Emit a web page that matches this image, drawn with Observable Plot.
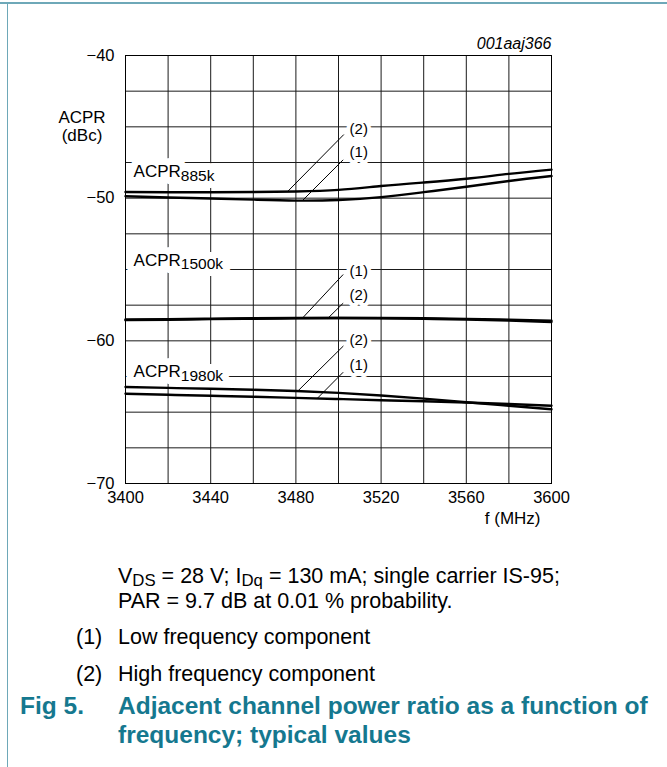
<!DOCTYPE html>
<html><head><meta charset="utf-8">
<script src="https://cdn.jsdelivr.net/npm/d3@7"></script>
<script src="https://cdn.jsdelivr.net/npm/@observablehq/plot@0.6"></script>
<style>
html,body{margin:0;padding:0;background:#fff;}
#page{position:relative;width:667px;height:767px;overflow:hidden;font-family:"Liberation Sans",Arial,Helvetica,sans-serif;color:#000;background:#fff;}
#topline{position:absolute;left:0;top:2px;width:667px;height:1.5px;background:#6ea8b8;}
#leftline{position:absolute;left:6.5px;top:2px;width:1.5px;height:765px;background:#6ea8b8;}
#chart{position:absolute;left:0;top:0;}
.note{position:absolute;white-space:nowrap;line-height:1;font-size:21.5px;}
.sub{font-size:0.78em;position:relative;top:0.17em;}
.title{position:absolute;white-space:nowrap;line-height:1;font-size:24.5px;font-weight:bold;color:#15788f;}
</style>
</head><body>
<div id="page">
  <div id="chart"></div>
  <div id="topline"></div>
  <div id="leftline"></div>
  <div class="note" style="left:118px;top:566px">V<span class="sub">DS</span> = 28 V; I<span class="sub">Dq</span> = 130 mA; single carrier IS-95;</div>
  <div class="note" style="left:118px;top:591px">PAR = 9.7 dB at 0.01 % probability.</div>
  <div class="note" style="left:76px;top:626.5px">(1)</div>
  <div class="note" style="left:118px;top:626.5px">Low frequency component</div>
  <div class="note" style="left:76px;top:663.5px">(2)</div>
  <div class="note" style="left:118px;top:663.5px">High frequency component</div>
  <div class="title" style="left:20px;top:694px">Fig 5.</div>
  <div class="title" style="left:118px;top:694px">Adjacent channel power ratio as a function of</div>
  <div class="title" style="left:118px;top:723px">frequency; typical values</div>
</div>
<script>
// ---- data ----
const freq = [3400, 3420, 3440, 3460, 3480, 3500, 3520, 3540, 3560, 3580, 3600];
const acpr885kLow  = [-49.87, -49.95, -50.02, -50.10, -50.17, -50.13, -49.93, -49.58, -49.20, -48.80, -48.45];
const acpr885kHigh = [-49.57, -49.58, -49.58, -49.57, -49.53, -49.42, -49.15, -48.90, -48.64, -48.30, -48.00];
const acpr1500kLow  = [-58.50, -58.48, -58.45, -58.42, -58.40, -58.40, -58.40, -58.42, -58.46, -58.52, -58.58];
const acpr1500kHigh = [-58.55, -58.52, -58.48, -58.45, -58.42, -58.40, -58.42, -58.46, -58.50, -58.58, -58.68];
const acpr1980kLow  = [-63.71, -63.78, -63.85, -63.92, -64.00, -64.08, -64.16, -64.24, -64.32, -64.43, -64.55];
const acpr1980kHigh = [-63.24, -63.30, -63.36, -63.43, -63.52, -63.65, -63.83, -64.05, -64.30, -64.55, -64.80];

const xTickLabels = [3400, 3440, 3480, 3520, 3560, 3600];
const yTickLabels = [-70, -60, -50, -40];
const xGrid = [3400, 3420, 3440, 3460, 3480, 3500, 3520, 3540, 3560, 3580, 3600];
const yGrid = [-70, -67.5, -65, -62.5, -60, -57.5, -55, -52.5, -50, -47.5, -45, -42.5, -40];

const groupLabels = [
  {main: "ACPR", sub: "885k",  f: 3403.8, v: -48.53},
  {main: "ACPR", sub: "1500k", f: 3403.8, v: -54.72},
  {main: "ACPR", sub: "1980k", f: 3403.8, v: -62.55}
];
const componentLabels = [
  {text: "(2)", f: 3505.2, v: -45.19},
  {text: "(1)", f: 3505.2, v: -46.78},
  {text: "(1)", f: 3505.2, v: -55.12},
  {text: "(2)", f: 3505.2, v: -56.82},
  {text: "(2)", f: 3505.2, v: -59.98},
  {text: "(1)", f: 3505.2, v: -61.73}
];
const leaders = [
  {f1: 3476.0, v1: -49.55, f2: 3502.5, v2: -45.54},
  {f1: 3483.0, v1: -50.18, f2: 3502.2, v2: -47.31},
  {f1: 3483.0, v1: -58.42, f2: 3502.2, v2: -55.35},
  {f1: 3495.0, v1: -58.42, f2: 3502.2, v2: -57.36},
  {f1: 3480.9, v1: -63.52, f2: 3502.3, v2: -60.36},
  {f1: 3490.0, v1: -64.04, f2: 3502.2, v2: -62.20}
];

const series = [
  {key: "885k (1)", values: acpr885kLow},
  {key: "885k (2)", values: acpr885kHigh},
  {key: "1500k (1)", values: acpr1500kLow},
  {key: "1500k (2)", values: acpr1500kHigh},
  {key: "1980k (1)", values: acpr1980kLow},
  {key: "1980k (2)", values: acpr1980kHigh}
];
const rows = series.flatMap(s => freq.map((f, i) => ({f, v: s.values[i], key: s.key})));

const font = '"Liberation Sans", Arial, Helvetica, sans-serif';
const chart = Plot.plot({
  width: 667, height: 545,
  marginLeft: 125, marginRight: 116, marginTop: 55, marginBottom: 62,
  x: {domain: [3400, 3600]},
  y: {domain: [-70, -40]},
  style: {fontFamily: font, fontSize: "16.5px", background: "transparent", overflow: "visible", color: "black"},
  marks: [
    Plot.ruleX(xGrid, {stroke: "#1a1a1a", strokeWidth: 1}),
    Plot.ruleY(yGrid, {stroke: "#1a1a1a", strokeWidth: 1}),
    // white halo behind the group labels
    Plot.text(groupLabels, {x: "f", y: "v", text: d => d.main + d.sub, textAnchor: "start", lineAnchor: "bottom",
      fontSize: 17, fill: "white", stroke: "white", strokeWidth: 14, strokeLinejoin: "round"}),
    Plot.text(groupLabels, {x: "f", y: "v", text: d => d.main + d.sub, textAnchor: "start", lineAnchor: "bottom",
      fontSize: 17, fill: "black"}),
    Plot.text(componentLabels, {x: "f", y: "v", text: "text", textAnchor: "start",
      fontSize: 15, fill: "black", stroke: "white", strokeWidth: 8, strokeLinejoin: "round"}),
    Plot.line(rows, {x: "f", y: "v", z: "key", curve: "natural", stroke: "black", strokeWidth: 2.4}),
    Plot.link(leaders, {x1: "f1", y1: "v1", x2: "f2", y2: "v2", stroke: "black", strokeWidth: 1}),
    Plot.frame({stroke: "black", strokeWidth: 1}),
    Plot.axisX({ticks: xTickLabels, tickFormat: d => String(d), tickSize: 0, tickPadding: 8, label: null, fontSize: 16.5}),
    Plot.axisY({ticks: yTickLabels, tickSize: 0, tickPadding: 11, label: null, fontSize: 16.5}),
    Plot.text(["ACPR"], {text: d => d, frameAnchor: "top-left", textAnchor: "middle", lineAnchor: "bottom", dx: -43.5, dy: 67, fontSize: 17}),
    Plot.text(["(dBc)"], {text: d => d, frameAnchor: "top-left", textAnchor: "middle", lineAnchor: "bottom", dx: -43.5, dy: 85, fontSize: 17}),
    Plot.text(["001aaj366"], {text: d => d, frameAnchor: "top-right", textAnchor: "end", lineAnchor: "bottom", dy: -6.5, fontSize: 16, fontStyle: "italic"}),
    Plot.text(["f (MHz)"], {text: d => d, frameAnchor: "bottom-right", textAnchor: "end", lineAnchor: "bottom", dx: -11, dy: 40, fontSize: 17})
  ]
});

// subscripts for the curve-group labels
d3.select(chart).selectAll("text").each(function () {
  const g = groupLabels.find(d => d.main + d.sub === this.textContent);
  if (g) {
    this.textContent = "";
    const sel = d3.select(this);
    sel.append("tspan").text(g.main);
    sel.append("tspan").attr("font-size", 15.5).attr("dy", 3.5).text(g.sub);
  }
});
document.getElementById("chart").appendChild(chart);
</script>
</body></html>
